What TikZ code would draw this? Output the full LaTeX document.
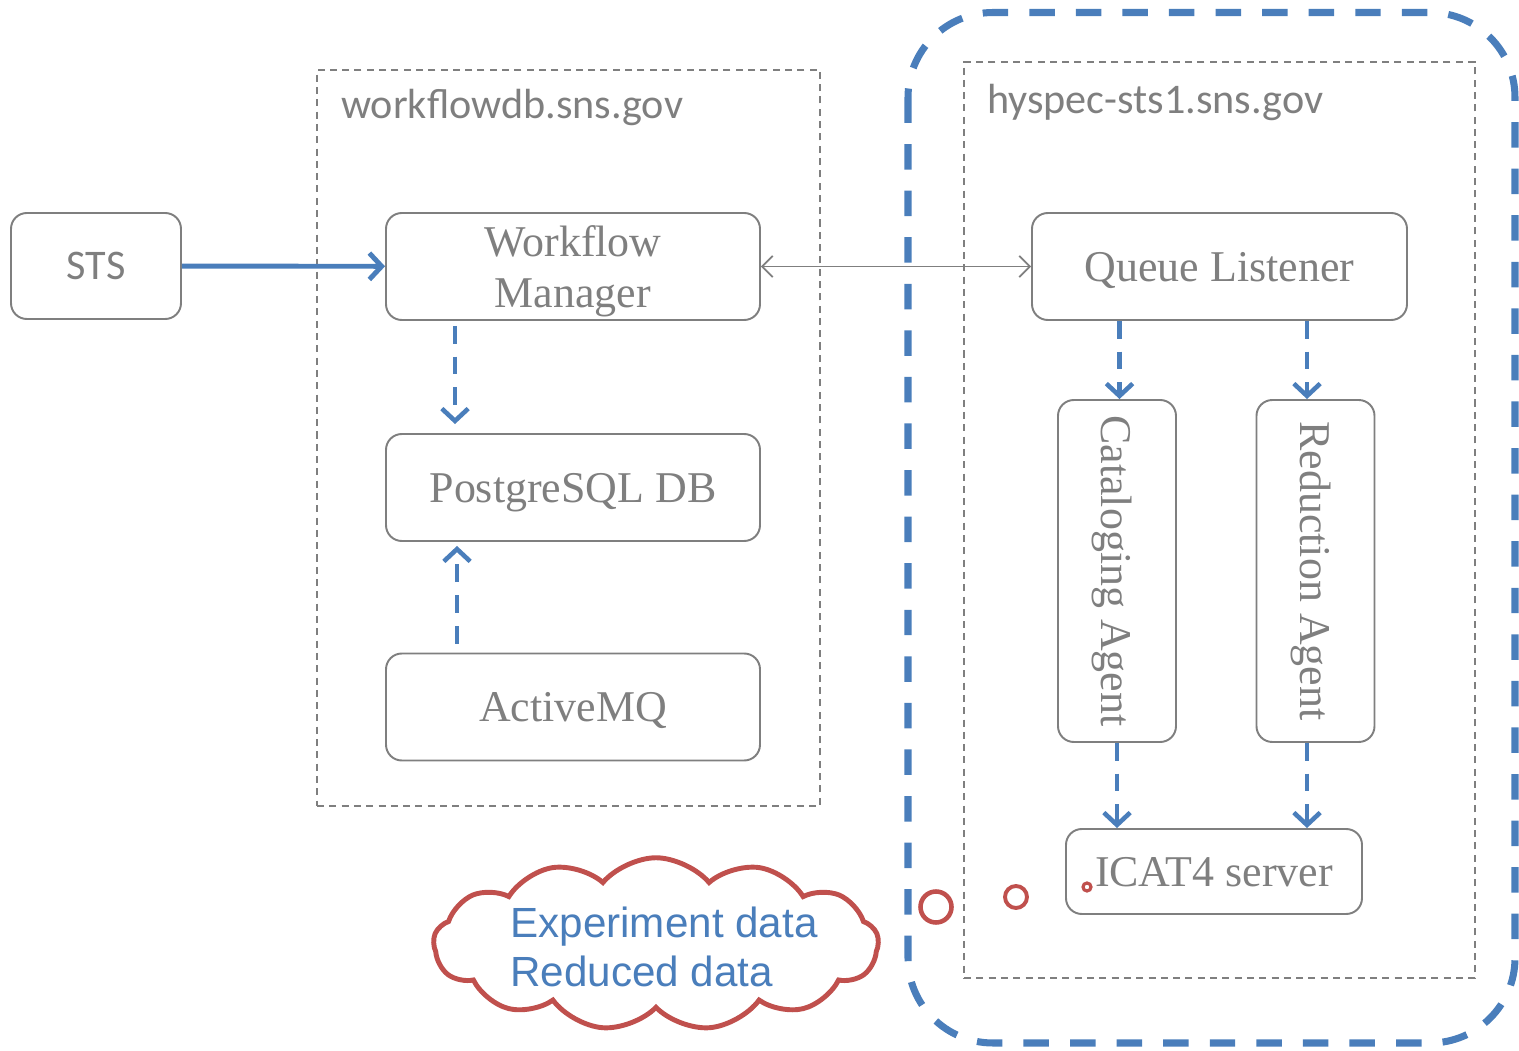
\documentclass[tikz,border=0pt]{standalone}
\usepackage{fontspec}
\setmainfont{Liberation Serif}
\newfontfamily\calibrifont{Carlito}
\newfontfamily\arialfont{Liberation Sans}
\usetikzlibrary{shapes,arrows,arrows.meta}
\usetikzlibrary{calc}
\definecolor{boxgray}{RGB}{127,127,127}
\definecolor{myblue}{RGB}{74,126,187}
\definecolor{myred}{RGB}{192,80,77}
\newcommand{\boxfont}{\fontsize{25}{28.5}\selectfont}

\begin{document}
\begin{tikzpicture}

\tikzstyle{round-b} = [draw=boxgray, line width=1.1pt, rounded corners=9pt,
text=boxgray, font=\boxfont, align=center, inner sep=0pt, text depth=0pt, fill=white]
\tikzstyle{host-b} = [draw=boxgray, line width=0.8pt, dash pattern=on 4pt off 3pt,
minimum width=0, inner sep=0pt]
\tikzstyle{host-label} = [anchor=west, text=boxgray, font=\calibrifont\fontsize{24}{28}\selectfont]
\tikzstyle{blue-arrow} = [-{Straight Barb[length=7pt,width=15pt]}, draw=myblue, line width=2.8pt]
\tikzstyle{blue-dash} = [-{Straight Barb[length=7pt,width=15pt]}, draw=myblue, line width=2.6pt,
dash pattern=on 10pt off 7.5pt]
\tikzstyle{link} = [{Straight Barb[length=6pt,width=12pt]}-{Straight Barb[length=6pt,width=12pt]},
draw=boxgray, line width=1pt]
\tikzstyle{big-dash} = [draw=myblue, line width=4pt, rounded corners=1.7cm,
dash pattern=on 14.5pt off 12pt]
\tikzstyle{cloud-b} = [cloud, draw=myred, line width=2.8pt, cloud puffs=13,
cloud puff arc=100, cloud ignores aspect, minimum width=8.9cm,
minimum height=3.45cm, fill=white]
\tikzstyle{bubble} = [circle, draw=myred, inner sep=0pt, fill=white]

\useasboundingbox (0,0) rectangle (30.38,21);

% host boxes
\node [host-b, minimum width=10.06cm, minimum height=14.72cm] (wfhost) at (11.37,12.24) {};
\node [host-label] (wflabel) at (6.7,18.85) {workflowdb.sns.gov};

\draw [big-dash] (18.16,20.75) rectangle (30.3,0.14);

\node [host-b, minimum width=10.22cm, minimum height=18.32cm] (hyhost) at (24.39,10.6) {};
\node [host-label] (hylabel) at (19.62,18.96) {hyspec-sts1.sns.gov};

% left side
\node [round-b, minimum width=3.4cm, minimum height=2.12cm,
font=\calibrifont\fontsize{24}{28}\selectfont] (sts) at (1.92,15.68) {STS};
\node [round-b, minimum width=7.48cm, minimum height=2.14cm] (wm) at (11.46,15.67) {Workflow\\Manager};
\node [round-b, minimum width=7.48cm, minimum height=2.14cm] (pg) at (11.46,11.25) {PostgreSQL DB};
\node [round-b, minimum width=7.48cm, minimum height=2.14cm] (amq) at (11.46,6.86) {ActiveMQ};

% right side
\node [round-b, minimum width=7.5cm, minimum height=2.14cm] (ql) at (24.39,15.67) {Queue Listener};
\node [round-b, rotate=-90, minimum width=6.84cm, minimum height=2.36cm] (cat) at (22.34,9.58) {Cataloging Agent};
\node [round-b, rotate=-90, minimum width=6.84cm, minimum height=2.36cm] (red) at (26.31,9.58) {Reduction Agent};
\node [round-b, minimum width=5.92cm, minimum height=1.7cm] (icat) at (24.28,3.57) {ICAT4 server};

% connectors
\draw [blue-arrow] (sts) -- (wm);
\draw [link] (wm.east) -- (ql.west);
\draw [blue-dash] ([xshift=-2.36cm,yshift=-0.1cm]wm.south) -- ([xshift=-2.36cm,yshift=0.18cm]pg.north);
\draw [blue-dash] ([xshift=-2.32cm,yshift=0.18cm]amq.north) -- ([xshift=-2.32cm,yshift=-0.08cm]pg.south);
\draw [blue-dash] ([xshift=-2cm]ql.south) -- ([xshift=-2cm]ql.south |- cat.west);
\draw [blue-dash] ([xshift=1.75cm]ql.south) -- ([xshift=1.75cm]ql.south |- red.west);
\draw [blue-dash] (cat.east) -- (cat.east |- icat.north);
\draw [blue-dash] ([xshift=-0.17cm]red.east) -- ([xshift=-0.17cm]red.east |- icat.north);

% thought cloud
\node [cloud-b] (cloudshape) at (13.12,2.12) {};
\node [anchor=center, align=left, text=myblue,
font=\arialfont\fontsize{24}{28}\selectfont] (data) at (13.28,2.06) {Experiment data\\Reduced data};
\node [bubble, line width=2.6pt, minimum size=0.62cm] (b1) at (18.72,2.86) {};
\node [bubble, line width=2.2pt, minimum size=0.44cm] (b2) at (20.32,3.06) {};
\node [bubble, line width=1.8pt, minimum size=0.16cm] (b3) at (21.74,3.26) {};

\end{tikzpicture}
\end{document}
